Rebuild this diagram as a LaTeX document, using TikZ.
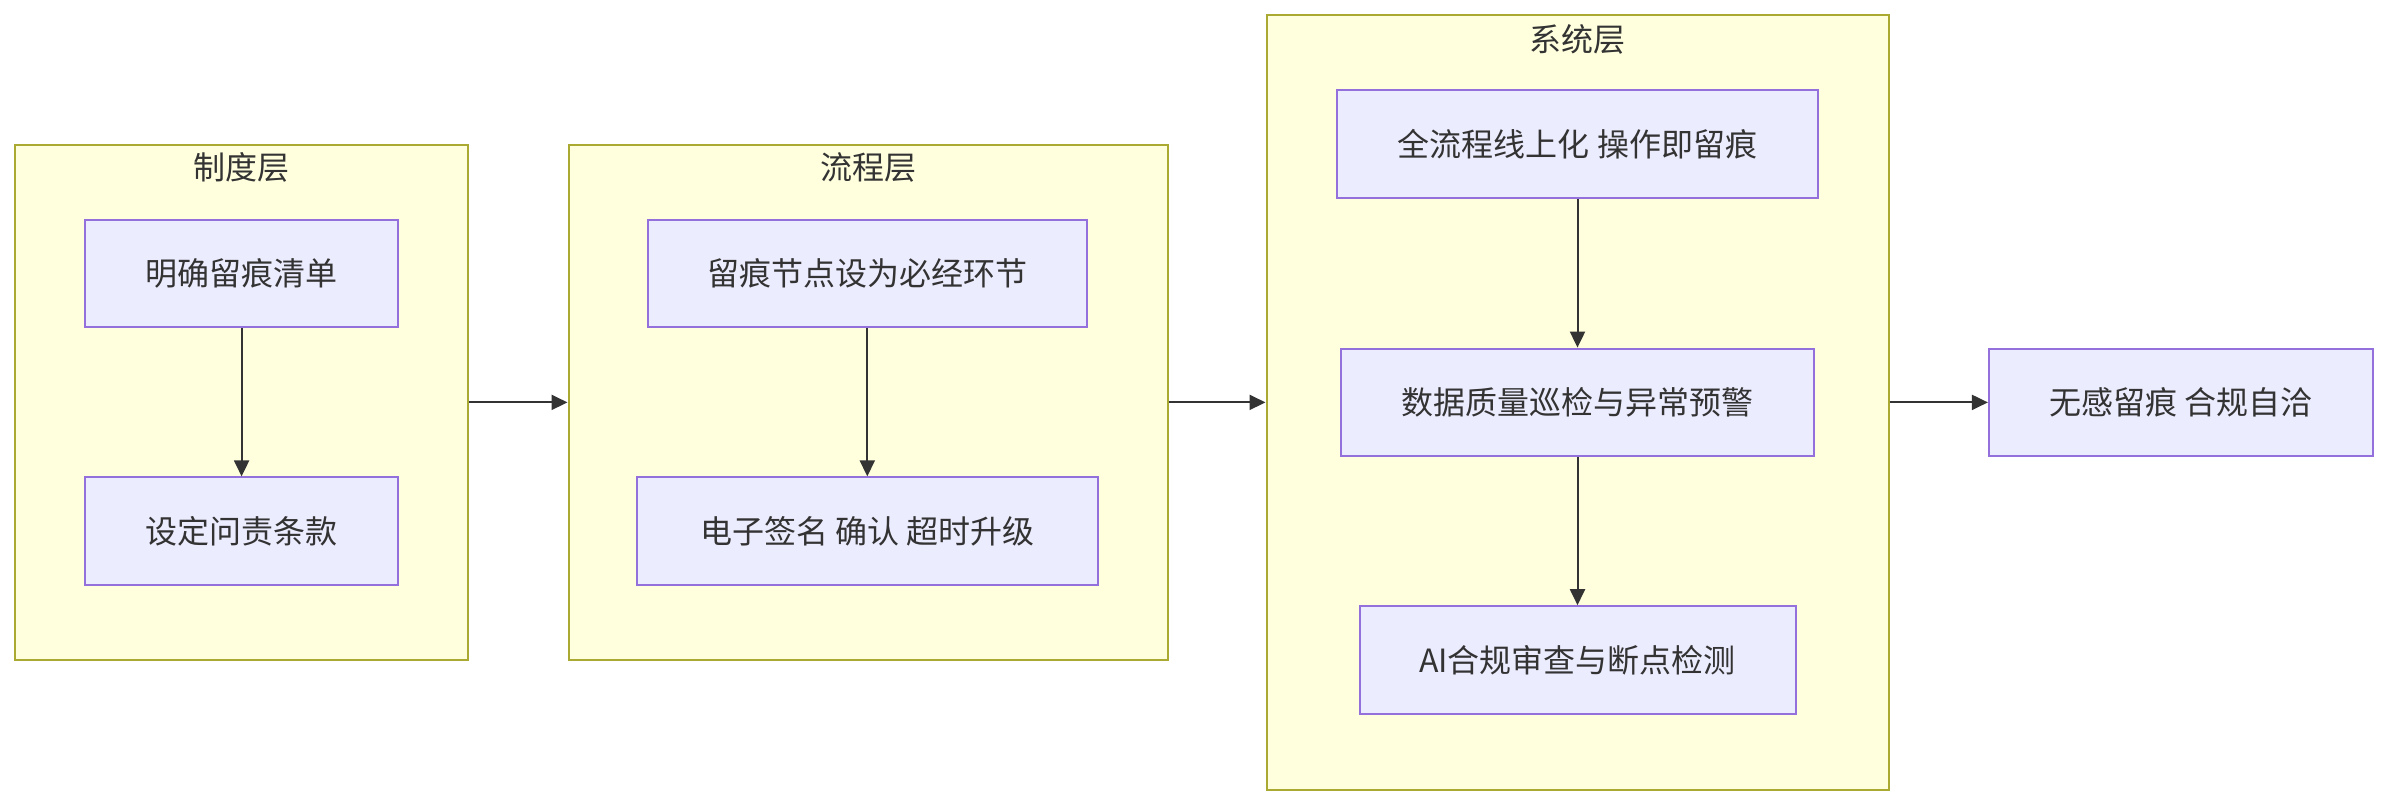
\documentclass[tikz,border=0pt]{standalone}
\usepackage{fontspec}
\setmainfont{Noto Sans CJK SC}
\usetikzlibrary{arrows.meta}
\definecolor{nodefill}{HTML}{ECECFF}
\definecolor{nodeline}{HTML}{9370DB}
\definecolor{clfill}{HTML}{FFFFDE}
\definecolor{clline}{HTML}{AAAA33}
\definecolor{txt}{HTML}{333333}
\begin{document}
\begin{tikzpicture}[x=0.5pt,y=-0.5pt,
  box/.style={draw=nodeline, fill=nodefill, line width=1pt, text=txt,
    font=\fontsize{16}{19}\selectfont, inner sep=0pt, minimum height=53.8pt},
  cluster/.style={draw=clline, fill=clfill, line width=1pt, inner sep=0pt},
  ttl/.style={text=txt, font=\fontsize{16}{19}\selectfont, inner sep=0pt},
  arr/.style={-{Triangle[length=8pt,width=7.5pt]}, draw=txt, line width=1pt}]
\useasboundingbox (0,0) rectangle (2390,806);
% clusters
\node[cluster, minimum width=226.4pt, minimum height=257.6pt] (c1) at (241.5,402.4) {};
\node[cluster, minimum width=299.5pt, minimum height=257.6pt] (c2) at (868,402.4) {};
\node[cluster, minimum width=311pt, minimum height=387.2pt] (c3) at (1577.5,402.4) {};
\node[ttl] (t1) at (241.5,167.7) {制度层};
\node[ttl] (t2) at (868,167.7) {流程层};
\node[ttl] (t3) at (1577.5,39.6) {系统层};
% nodes
\node[box, minimum width=156.2pt] (A) at (241.6,273.6) {明确留痕清单};
\node[box, minimum width=156.2pt] (B) at (241.6,531.2) {设定问责条款};
\node[box, minimum width=219.5pt] (C) at (867.3,273.6) {留痕节点设为必经环节};
\node[box, minimum width=230.2pt] (D) at (867.3,531.2) {电子签名 确认 超时升级};
\node[box, minimum width=240.9pt] (E) at (1577.5,144) {全流程线上化 操作即留痕};
\node[box, minimum width=236.3pt] (F) at (1577.5,402.4) {数据质量巡检与异常预警};
\node[box, minimum width=218pt] (G) at (1577.5,660) {AI合规审查与断点检测};
\node[box, minimum width=192.1pt] (H) at (2181,402.4) {无感留痕 合规自洽};
% connectors
\draw[arr] (A) -- (B);
\draw[arr] (C) -- (D);
\draw[arr] (E) -- (F);
\draw[arr] (F) -- (G);
\draw[arr] (c1.east) -- (c2.west);
\draw[arr] (c2.east) -- (c3.west);
\draw[arr] (c3.east) -- (H.west);
\end{tikzpicture}
\end{document}
